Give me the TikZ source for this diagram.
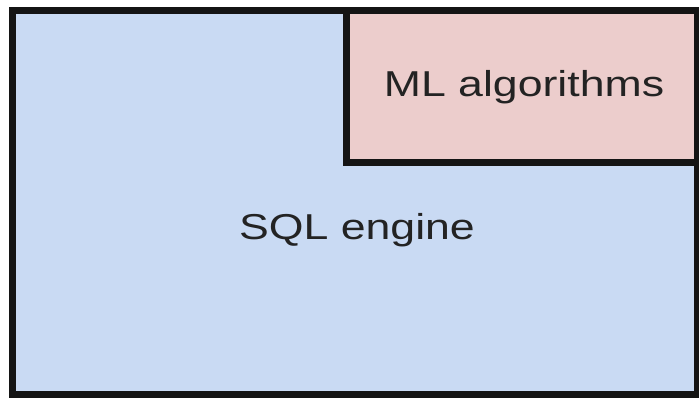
\documentclass[tikz,border=0pt]{standalone}
\usepackage{fontspec}
\usepackage{tikz}
\newfontfamily\diagfont[FakeStretch=1.24]{Liberation Sans}
\definecolor{pdfcolor1}{RGB}{201,218,243}
\definecolor{pdfcolor2}{RGB}{236,205,204}
\definecolor{pdfcolor3}{RGB}{20,20,20}
\definecolor{pdfcolor4}{RGB}{35,35,35}

\begin{document}
\begin{tikzpicture}[x=1bp,y=-1bp,inner sep=0pt,outer sep=0pt]
  \useasboundingbox (0,0) rectangle (699,398);
  \fill[white] (0,0) rectangle (699,398);
  \filldraw[fill=pdfcolor1,draw=pdfcolor3,line width=7bp] (12,10) rectangle (697,394);
  \filldraw[fill=pdfcolor2,draw=pdfcolor3,line width=7bp] (346,10) rectangle (697,162);
  \node[anchor=center,text=pdfcolor4] (sql) at (357,230) {{\diagfont\fontsize{36bp}{43bp}\selectfont SQL engine}};
  \node[anchor=center,text=pdfcolor4] (ml) at (524,87) {{\diagfont\fontsize{36bp}{43bp}\selectfont ML algorithms}};
\end{tikzpicture}
\end{document}
